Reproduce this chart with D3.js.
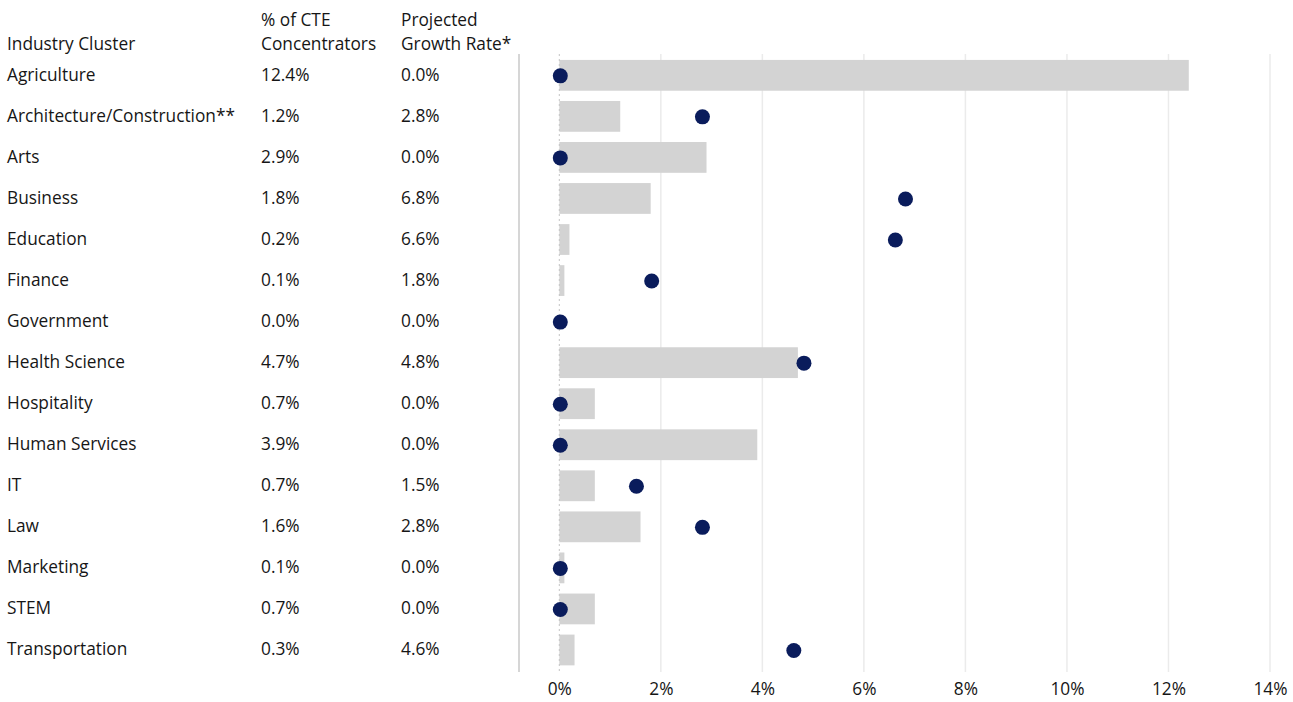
<!DOCTYPE html>
<html>
<head>
<meta charset="utf-8">
<script src="https://cdn.jsdelivr.net/npm/d3@7"></script>
<style>
  html, body { margin: 0; padding: 0; background: #fff; }
  svg { display: block; }
  text { font-family: "Open Sans", "Noto Sans", sans-serif; fill: #161616; }
</style>
</head>
<body>
<svg id="chart" width="1293" height="702"></svg>
<script>
// Industry clusters with share of CTE concentrators and projected growth (%)
const clusters = [
  "Agriculture", "Architecture/Construction**", "Arts", "Business", "Education",
  "Finance", "Government", "Health Science", "Hospitality", "Human Services",
  "IT", "Law", "Marketing", "STEM", "Transportation"
];
const concentrators = [12.4, 1.2, 2.9, 1.8, 0.2, 0.1, 0.0, 4.7, 0.7, 3.9, 0.7, 1.6, 0.1, 0.7, 0.3];
const growthRate    = [0.0, 2.8, 0.0, 6.8, 6.6, 1.8, 0.0, 4.8, 0.0, 0.0, 1.5, 2.8, 0.0, 0.0, 4.6];
const xTicks = [0, 2, 4, 6, 8, 10, 12, 14];
const headers = {
  cluster: ["Industry Cluster"],
  share: ["% of CTE", "Concentrators"],
  growth: ["Projected", "Growth Rate*"]
};

const rows = clusters.map((c, i) => ({ cluster: c, share: concentrators[i], growth: growthRate[i] }));

const svg = d3.select("#chart");
const fontSize = 17.3;

const plotLeft = 519;
const x = d3.scaleLinear().domain([0, 14]).range([559.3, 1270]);
const y = d3.scaleBand()
  .domain(clusters)
  .range([54.8, 670.5])
  .paddingInner(0.25)
  .paddingOuter(0.125);

const fmt = d => d.toFixed(1) + "%";
const colX = { cluster: 7, share: 261, growth: 401 };

// Column headers (bottom-aligned)
const headerBase = 49.5;
const lineH = 24;
Object.entries(headers).forEach(([key, lines]) => {
  const t = svg.append("text")
    .attr("x", colX[key])
    .attr("font-size", fontSize);
  lines.forEach((ln, j) => {
    t.append("tspan")
      .attr("x", colX[key])
      .attr("y", headerBase - (lines.length - 1 - j) * lineH)
      .text(ln);
  });
});

// Gridlines
const grid = svg.append("g");
grid.selectAll("line")
  .data(xTicks.filter(d => d !== 0))
  .join("line")
  .attr("x1", d => x(d)).attr("x2", d => x(d))
  .attr("y1", 54).attr("y2", 672)
  .attr("stroke", "#ebebeb")
  .attr("stroke-width", 1.5);

// Left plot frame line
svg.append("line")
  .attr("x1", plotLeft).attr("x2", plotLeft)
  .attr("y1", 54).attr("y2", 672)
  .attr("stroke", "#c8c8c8")
  .attr("stroke-width", 1.5);

// Bars: share of CTE concentrators
svg.append("g").selectAll("rect")
  .data(rows)
  .join("rect")
  .attr("x", x(0))
  .attr("y", d => y(d.cluster))
  .attr("width", d => x(d.share) - x(0))
  .attr("height", y.bandwidth())
  .attr("fill", "#d3d3d3");

// Zero reference line (dotted)
svg.append("line")
  .attr("x1", x(0)).attr("x2", x(0))
  .attr("y1", 54).attr("y2", 672)
  .attr("stroke", "#c4c4c4")
  .attr("stroke-width", 1)
  .attr("stroke-dasharray", "2,3");

// Dots: projected growth rate
svg.append("g").selectAll("circle")
  .data(rows)
  .join("circle")
  .attr("cx", d => x(d.growth) + 1)
  .attr("cy", d => y(d.cluster) + y.bandwidth() / 2 + 0.5)
  .attr("r", 7.5)
  .attr("fill", "#0a1c5c");

// Table columns
const table = svg.append("g").attr("font-size", fontSize);
const rowY = d => y(d.cluster) + y.bandwidth() / 2;
table.selectAll("text.cluster")
  .data(rows).join("text").attr("class", "cluster")
  .attr("x", colX.cluster).attr("y", rowY).attr("dy", "0.3em")
  .text(d => d.cluster);
table.selectAll("text.share")
  .data(rows).join("text").attr("class", "share")
  .attr("x", colX.share).attr("y", rowY).attr("dy", "0.3em")
  .text(d => fmt(d.share));
table.selectAll("text.growth")
  .data(rows).join("text").attr("class", "growth")
  .attr("x", colX.growth).attr("y", rowY).attr("dy", "0.3em")
  .text(d => fmt(d.growth));

// X axis
const axis = d3.axisBottom(x)
  .tickValues(xTicks)
  .tickFormat(d => d + "%")
  .tickSize(0)
  .tickPadding(0);
const gx = svg.append("g")
  .attr("transform", "translate(0,679)")
  .call(axis);
gx.select(".domain").remove();
gx.selectAll("text")
  .attr("font-size", fontSize)
  .attr("font-family", "'Open Sans', 'Noto Sans', sans-serif")
  .attr("fill", "#161616")
  .attr("dy", "0.95em");
</script>
</body>
</html>
